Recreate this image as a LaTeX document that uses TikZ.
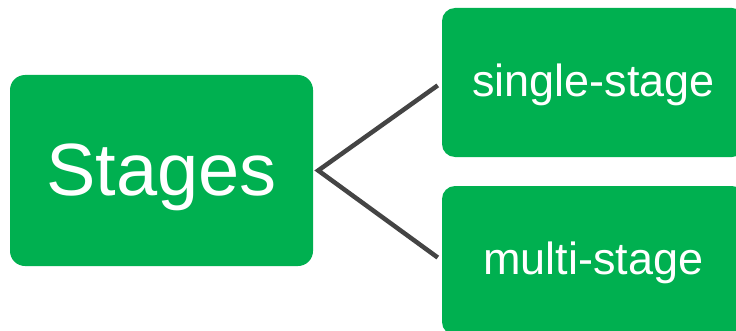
\documentclass[tikz,border=0pt]{standalone}
\usepackage{fontspec}
\setmainfont{Liberation Sans}
\definecolor{boxgreen}{HTML}{00B050}
\definecolor{linkgray}{HTML}{444444}
\begin{document}
\begin{tikzpicture}[x=1pt,y=1pt,
  stagebox/.style={fill=boxgreen, draw=none, rounded corners=13pt,
    text=white, inner sep=0pt, align=center, text depth=0pt},
  link/.style={draw=linkgray, line width=4.5pt, shorten <=5pt, shorten >=5pt, line join=miter}]
  \useasboundingbox (0,0) rectangle (736,330);
  \node[stagebox, minimum width=303pt, minimum height=191pt, rounded corners=15pt,
        text height=49pt, font=\fontsize{74}{80}\selectfont] (stages) at (161.5,159.5) {Stages};
  \node[stagebox, minimum width=303pt, minimum height=149pt, text height=28pt,
        font=\fontsize{45}{50}\selectfont] (single) at (593.5,247.5) {single-stage};
  \node[stagebox, minimum width=303pt, minimum height=149pt, text height=28pt,
        font=\fontsize{45}{50}\selectfont] (multi) at (593.5,69.5) {multi-stage};
  \draw[link] (single.west) -- ([xshift=5pt]stages.east) -- (multi.west);
\end{tikzpicture}
\end{document}
